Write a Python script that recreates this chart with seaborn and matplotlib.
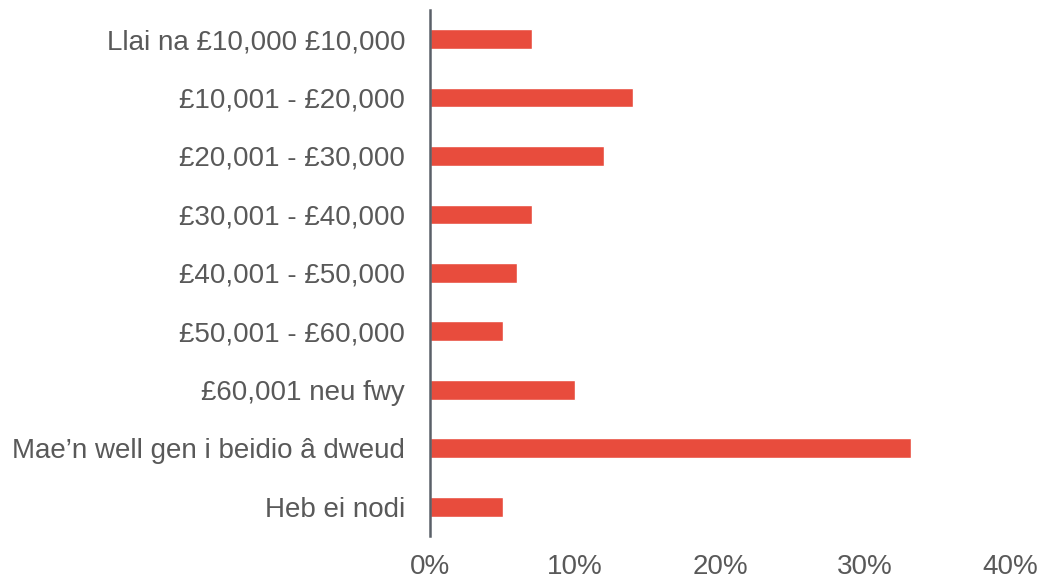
import matplotlib
matplotlib.use("Agg")
import matplotlib.pyplot as plt
import seaborn as sns
import pandas as pd
from matplotlib.ticker import FuncFormatter

categories = [
    "Llai na £10,000 £10,000",
    "£10,001 - £20,000",
    "£20,001 - £30,000",
    "£30,001 - £40,000",
    "£40,001 - £50,000",
    "£50,001 - £60,000",
    "£60,001 neu fwy",
    "Mae\u2019n well gen i beidio â dweud",
    "Heb ei nodi",
]
values = [7, 14, 12, 7, 6, 5, 10, 33.2, 5]
xticks = [0, 10, 20, 30, 40]

sns.set_theme(style="white")
plt.rcParams['font.family'] = ['Liberation Sans', 'DejaVu Sans']

text_color = "#595959"
df = pd.DataFrame({"cat": categories, "val": values})

fig = plt.figure(figsize=(10.45, 5.8), dpi=100)
ax = fig.add_axes([0.4115, 0.076, 0.555, 0.907])
sns.barplot(data=df, x="val", y="cat", color="#E84C3D", saturation=1,
            width=0.34, ax=ax, orient="h")

ax.set_xlim(0, 40)
ax.set_xticks(xticks)
ax.xaxis.set_major_formatter(FuncFormatter(lambda v, p: f"{v:.0f}%"))
ax.set_xlabel("")
ax.set_ylabel("")
for s in ["top", "right", "bottom"]:
    ax.spines[s].set_visible(False)
ax.spines["left"].set_color("#5A6068")
ax.spines["left"].set_linewidth(1.8)
ax.tick_params(axis="both", length=0, labelsize=20, labelcolor=text_color)
ax.tick_params(axis="x", pad=13)
ax.tick_params(axis="y", pad=18)
ax.grid(False)

fig.savefig("out.png", dpi=100)
